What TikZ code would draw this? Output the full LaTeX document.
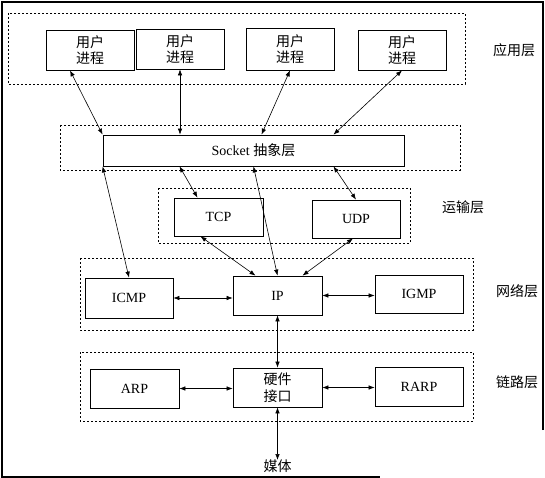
\documentclass[tikz,border=0pt]{standalone}
\usepackage{fontspec}
\setmainfont{Liberation Serif}
\newfontfamily\cjk{Noto Sans CJK SC}
\usetikzlibrary{arrows.meta}
\begin{document}
\begin{tikzpicture}[x=1pt,y=-1pt,
  box/.style={draw, line width=0.8pt, inner sep=0pt, align=center, font=\fontsize{14}{16.5}\selectfont},
  layer/.style={draw, line width=0.7pt, dash pattern=on 2pt off 2pt},
  lbl/.style={font=\cjk\fontsize{14}{16.5}\selectfont, inner sep=0pt},
  conn/.style={line width=0.6pt, {Latex[length=6pt,width=4.5pt]}-{Latex[length=6pt,width=4.5pt]}}]
\useasboundingbox[fill=white] (0,0) rectangle (545,478);
% outer frame
\draw[line width=1.2pt] (543,430) -- (543,2) -- (2,2) -- (2,477) -- (380,477);
% layers
\draw[layer] (8,13) rectangle (465,84);
\draw[layer] (60,125) rectangle (460,170);
\draw[layer] (158,188) rectangle (410,243);
\draw[layer] (80,258) rectangle (473,330);
\draw[layer] (80,352) rectangle (473,421);
% layer labels
\node[lbl] (l1) at (514,50) {应用层};
\node[lbl] (l2) at (463,207) {运输层};
\node[lbl] (l3) at (517,291) {网络层};
\node[lbl] (l4) at (517,382) {链路层};
% nodes
\node[box, minimum width=88, minimum height=40] (u1) at (90,50) {\cjk 用户\\\cjk 进程};
\node[box, minimum width=88, minimum height=40] (u2) at (180,49) {\cjk 用户\\\cjk 进程};
\node[box, minimum width=88, minimum height=42] (u3) at (290,49) {\cjk 用户\\\cjk 进程};
\node[box, minimum width=88, minimum height=40] (u4) at (402,50) {\cjk 用户\\\cjk 进程};
\node[box, minimum width=301, minimum height=31] (sock) at (253.5,150.5) {Socket {\cjk 抽象层}};
\node[box, minimum width=89, minimum height=38] (tcp) at (218.5,217) {TCP};
\node[box, minimum width=88, minimum height=38] (udp) at (356,219) {UDP};
\node[box, minimum width=88, minimum height=40] (icmp) at (129,298) {ICMP};
\node[box, minimum width=89, minimum height=39] (ip) at (277.5,295.5) {IP};
\node[box, minimum width=88, minimum height=38] (igmp) at (419,294) {IGMP};
\node[box, minimum width=89, minimum height=39] (arp) at (134.5,388.5) {ARP};
\node[box, minimum width=89, minimum height=39] (hw) at (277.5,387.5) {\cjk 硬件\\\cjk 接口};
\node[box, minimum width=88, minimum height=39] (rarp) at (419,386.5) {RARP};
\node[lbl, anchor=north] (media) at (277.5,460) {媒体};
% connectors
\draw[conn] ([xshift=-20pt]u1.south) -- (sock.north west);
\draw[conn] (u2.south) -- (u2.south |- sock.north);
\draw[conn] (u3.south) -- ([xshift=8pt]sock.north);
\draw[conn] (u4.south) -- ([xshift=80pt]sock.north);
\draw[conn] (sock.south west) -- (icmp.north);
\draw[conn] ([xshift=-74pt]sock.south) -- ([xshift=-21pt]tcp.north);
\draw[conn] (sock.south) -- (ip.north);
\draw[conn] ([xshift=80pt]sock.south) -- (udp.north);
\draw[conn] ([xshift=-18pt]tcp.south) -- ([xshift=-22pt]ip.north);
\draw[conn] ([xshift=-3pt]udp.south) -- ([xshift=25pt]ip.north);
\draw[conn] (icmp.east) -- (icmp.east -| ip.west);
\draw[conn] (ip.east) -- (ip.east -| igmp.west);
\draw[conn] (ip.south) -- (hw.north);
\draw[conn] (arp.east) -- (arp.east -| hw.west);
\draw[conn] (hw.east) -- (hw.east -| rarp.west);
\draw[conn] (hw.south) -- (media.north);
\end{tikzpicture}
\end{document}
